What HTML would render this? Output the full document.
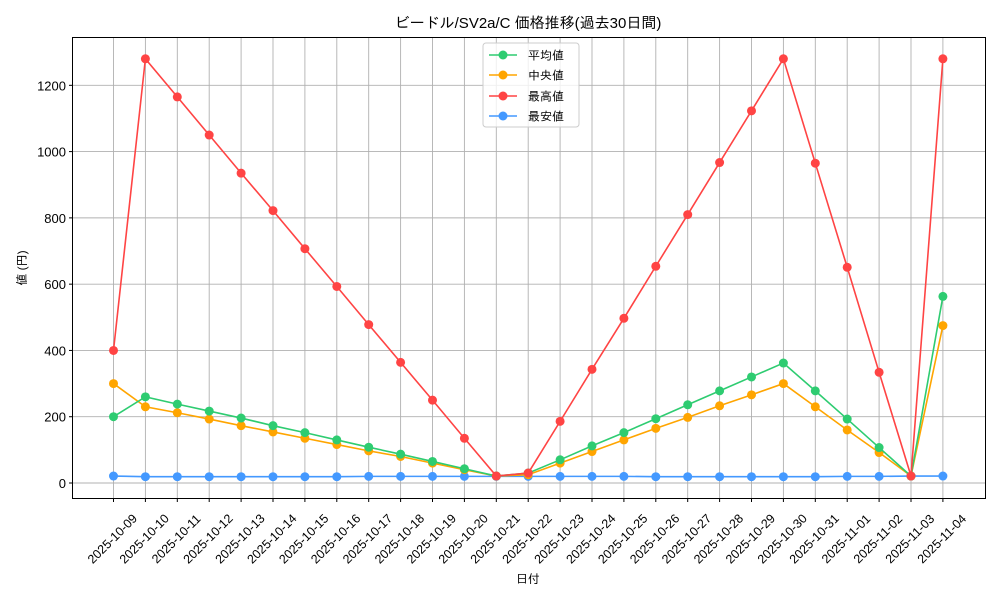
<!DOCTYPE html>
<html><head><meta charset="utf-8"><style>
body{margin:0;background:#fff}
svg text{font-family:"Liberation Sans","IPAGothic","Noto Sans CJK JP",sans-serif;fill:#000}
</style></head><body>
<svg width="1000" height="600" xmlns="http://www.w3.org/2000/svg" id="s">
<rect width="1000" height="600" fill="#fff"/>
<g id="grid" stroke="#b0b0b0" stroke-width="0.9"></g>
<g id="series"></g>
<rect x="72.5" y="37.5" width="913" height="461" fill="none" stroke="#000" stroke-width="1"/>
<g id="axes"></g>
<text x="528" y="28" font-size="15" text-anchor="middle">ビードル/SV2a/C 価格推移(過去30日間)</text>
<text x="528" y="583" font-size="12" text-anchor="middle">日付</text>
<text transform="translate(26,268) rotate(-90)" font-size="12" text-anchor="middle">値 (円)</text>
<g>
<rect x="483" y="43" width="96" height="84" rx="3" fill="#fff" fill-opacity="0.8" stroke="#ccc"/>
<line x1="489" y1="55" x2="517" y2="55" stroke="#2ecc71" stroke-width="1.5"/><circle cx="503" cy="55" r="4.5" fill="#2ecc71"/><text x="528" y="59.5" font-size="12">平均値</text>
<line x1="489" y1="75" x2="517" y2="75" stroke="#ffa500" stroke-width="1.5"/><circle cx="503" cy="75" r="4.5" fill="#ffa500"/><text x="528" y="79.5" font-size="12">中央値</text>
<line x1="489" y1="96" x2="517" y2="96" stroke="#ff4444" stroke-width="1.5"/><circle cx="503" cy="96" r="4.5" fill="#ff4444"/><text x="528" y="100.5" font-size="12">最高値</text>
<line x1="489" y1="116" x2="517" y2="116" stroke="#4499ff" stroke-width="1.5"/><circle cx="503" cy="116" r="4.5" fill="#4499ff"/><text x="528" y="120.5" font-size="12">最安値</text>
</g>
</svg>
<script>
const NS="http://www.w3.org/2000/svg";
function el(p,t,a,txt){const e=document.createElementNS(NS,t);for(const k in a)e.setAttribute(k,a[k]);if(txt!=null)e.textContent=txt;p.appendChild(e);return e;}
const X=i=>113.5+i*31.9, Y=v=>483-v*0.3314;
const g=document.getElementById('grid'),ax=document.getElementById('axes'),sr=document.getElementById('series');
const dates=[];let d=new Date(Date.UTC(2025,9,9));for(let i=0;i<27;i++){dates.push(d.toISOString().slice(0,10));d=new Date(d.getTime()+86400000);}
for(let i=0;i<27;i++){const x=X(i);el(g,'line',{x1:x,x2:x,y1:37.5,y2:498.5});el(ax,'line',{x1:x,x2:x,y1:498.5,y2:502,stroke:'#000'});
el(ax,'text',{transform:`translate(${x-1},${539}) rotate(-45)`,'font-size':12.5,'text-anchor':'middle','dominant-baseline':'central'},dates[i]);}
for(let v=0;v<=1200;v+=200){const y=Y(v);el(g,'line',{x1:72.5,x2:985.5,y1:y,y2:y});el(ax,'line',{x1:69,x2:72.5,y1:y,y2:y,stroke:'#000'});el(ax,'text',{x:66,y:y+5,'font-size':13,'text-anchor':'end'},v);}
const S=[
['#4499ff',[21,19,19,19,19,19,19,19,20,20,20,20,20,20,20,20,20,19,19,19,19,19,19,20,20,21,21]],
['#ffa500',[300,230,212,193,173,154,135,116,97,80,60,40,21,25,60,95,130,165,198,233,266,300,230,160,92,21,475]],
['#2ecc71',[200,260,238,217,196,173,152,130,108,87,65,43,21,30,70,112,152,194,236,278,320,362,278,193,107,21,563]],
['#ff4444',[400,1280,1165,1050,935,822,707,593,478,364,250,135,21,30,186,343,497,654,810,967,1123,1280,965,651,334,21,1280]]];
for(const [c,vs] of S){el(sr,'polyline',{points:vs.map((v,i)=>X(i)+','+Y(v)).join(' '),fill:'none',stroke:c,'stroke-width':1.6});
vs.forEach((v,i)=>el(sr,'circle',{cx:X(i),cy:Y(v),r:4.5,fill:c}));}
</script>
</body></html>
